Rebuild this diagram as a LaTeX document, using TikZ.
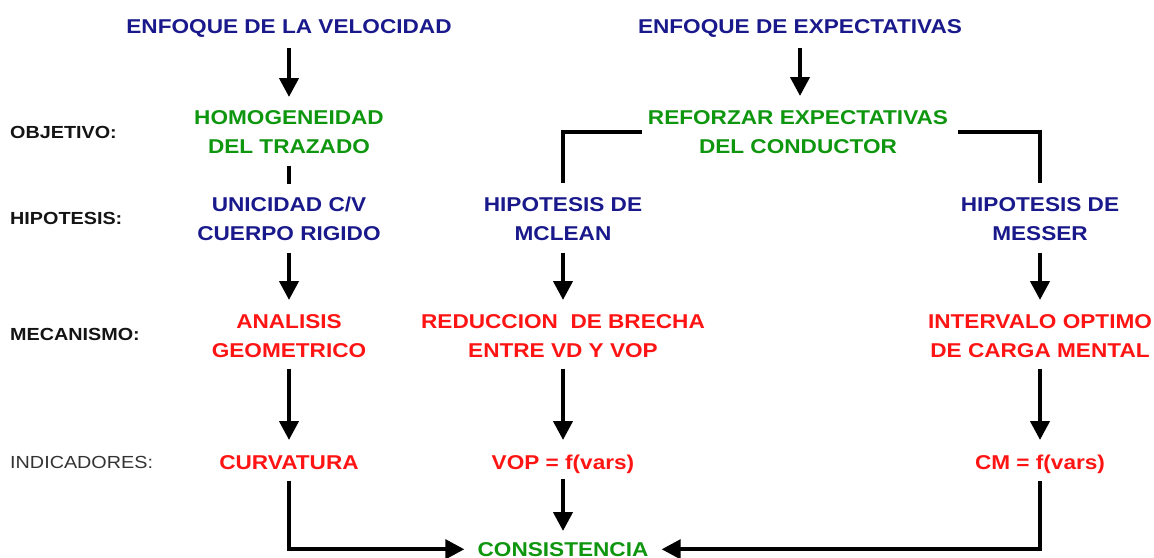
\documentclass[tikz,border=0pt]{standalone}
\usepackage{fontspec}
\setmainfont{Liberation Sans}[FakeStretch=1.13]
\usetikzlibrary{arrows.meta}
\definecolor{cblue}{RGB}{25,25,140}
\definecolor{cgreen}{RGB}{15,150,15}
\definecolor{cred}{RGB}{255,20,20}
\definecolor{clab}{RGB}{20,20,20}
\begin{document}
\begin{tikzpicture}[x=1pt,y=-1pt,
  txt/.style={inner sep=0pt, align=center, anchor=north, font=\bfseries\fontsize{20}{29}\selectfont},
  tb/.style={txt, text=cblue},
  tg/.style={txt, text=cgreen},
  tr/.style={txt, text=cred},
  lab/.style={inner sep=0pt, anchor=west, font=\bfseries\fontsize{17.5}{21}\selectfont, text=clab},
  labn/.style={lab, font=\fontsize{17.5}{21}\selectfont, text=black!80},
  arr/.style={line width=4.2pt, -{Triangle[length=19pt,width=19pt]}},
  ln/.style={line width=4.2pt}]
\useasboundingbox (0,0) rectangle (1154,557);
% top row
\node[tb] (enf1) at (289,19) {ENFOQUE DE LA VELOCIDAD};
\node[tb] (enf2) at (800,19) {ENFOQUE DE EXPECTATIVAS};
% objective
\node[tg] (homo) at (289,110) {HOMOGENEIDAD\\DEL TRAZADO};
\node[tg] (refor) at (798,110) {REFORZAR EXPECTATIVAS\\DEL CONDUCTOR};
% hypotheses
\node[tb] (unic) at (289,197) {UNICIDAD C/V\\CUERPO RIGIDO};
\node[tb] (mclean) at (563,197) {HIPOTESIS DE\\MCLEAN};
\node[tb] (messer) at (1040,197) {HIPOTESIS DE\\MESSER};
% mechanisms
\node[tr] (anal) at (289,314) {ANALISIS\\GEOMETRICO};
\node[tr] (reduc) at (563,314) {REDUCCION~~DE BRECHA\\ENTRE VD Y VOP};
\node[tr] (interv) at (1040,314) {INTERVALO OPTIMO\\DE CARGA MENTAL};
% indicators
\node[tr] (curv) at (289,455) {CURVATURA};
\node[tr] (vop) at (563,455) {VOP = f(vars)};
\node[tr] (cm) at (1040,455) {CM = f(vars)};
% result
\node[tg] (cons) at (563,542) {CONSISTENCIA};
% row labels
\node[lab] (lobj) at (10,132) {OBJETIVO:};
\node[lab] (lhip) at (10,218) {HIPOTESIS:};
\node[lab] (lmec) at (10,334) {MECANISMO:};
\node[labn] (lind) at (10,462) {INDICADORES:};
% connectors
\draw[arr, shorten <=11pt, shorten >=13pt] (enf1.south) -- (homo.north);
\draw[arr, shorten <=11pt, shorten >=14pt] (enf2.south) -- (enf2.south |- refor.north);
\draw[ln, shorten <=12pt, shorten >=13pt] (homo.south) -- (unic.north);
\draw[ln, shorten <=6pt, shorten >=14pt] (refor.west) -| (mclean.north);
\draw[ln, shorten <=10pt, shorten >=14pt] (refor.east) -| (messer.north);
\draw[arr, shorten <=12pt, shorten >=14pt] (unic.south) -- (anal.north);
\draw[arr, shorten <=12pt, shorten >=14pt] (mclean.south) -- (reduc.north);
\draw[arr, shorten <=12pt, shorten >=14pt] (messer.south) -- (interv.north);
\draw[arr, shorten <=11pt, shorten >=15pt] (anal.south) -- (curv.north);
\draw[arr, shorten <=11pt, shorten >=15pt] (reduc.south) -- (vop.north);
\draw[arr, shorten <=11pt, shorten >=15pt] (interv.south) -- (cm.north);
\draw[arr, shorten <=5pt, shorten >=11pt] (vop.south) -- (cons.north);
\draw[arr, shorten <=11pt, shorten >=13pt] (curv.south) |- (cons.west);
\draw[arr, shorten <=7pt, shorten >=13pt] (cm.south) |- (cons.east);
\end{tikzpicture}
\end{document}
